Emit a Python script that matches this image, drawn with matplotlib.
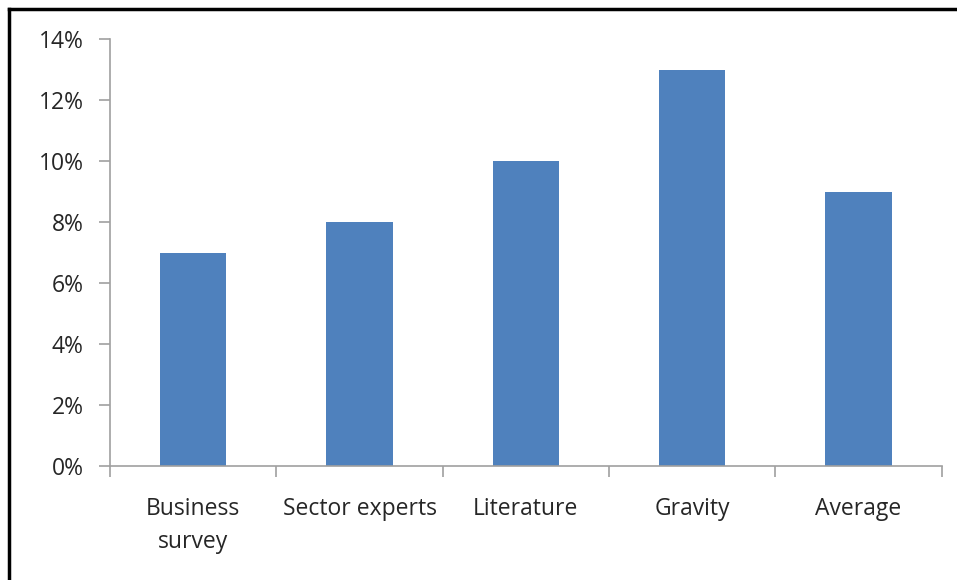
import matplotlib.pyplot as plt
from matplotlib.lines import Line2D
from matplotlib.ticker import FuncFormatter

categories = ["Business\nsurvey", "Sector experts", "Literature", "Gravity", "Average"]
values = [7, 8, 10, 13, 9]
yticks = [0, 2, 4, 6, 8, 10, 12, 14]

plt.rcParams['font.family'] = ['Open Sans', 'DejaVu Sans']

fig = plt.figure(figsize=(9.57, 5.8), dpi=100)
ax = fig.add_axes([0.115, 0.1966, 0.869, 0.736])

x = range(len(categories))
ax.bar(x, values, width=0.4, color="#4F81BD")

ax.set_xlim(-0.5, len(categories) - 0.5)
ax.set_ylim(0, 14)
ax.set_yticks(yticks)
ax.yaxis.set_major_formatter(FuncFormatter(lambda v, p: f"{v:.0f}%"))

ax.set_xticks([i - 0.5 for i in range(len(categories) + 1)])
ax.set_xticklabels([])
ax.set_xticks(list(x), minor=True)
ax.set_xticklabels(categories, minor=True, fontsize=16.5, color="#262626",
                   linespacing=1.5)
ax.tick_params(axis="x", which="minor", length=0, pad=22)
ax.tick_params(axis="x", which="major", length=8, color="#A0A0A0", width=1.2)
ax.tick_params(axis="y", length=8, color="#A0A0A0", width=1.2,
               labelsize=16.5, labelcolor="#262626", pad=11)

for s in ["top", "right"]:
    ax.spines[s].set_visible(False)
for s in ["left", "bottom"]:
    ax.spines[s].set_color("#A0A0A0")
    ax.spines[s].set_linewidth(1.2)

# frame around the picture
fig.add_artist(Line2D([9 / 957, 9 / 957], [0, 1 - 9 / 580], color="black",
                      linewidth=2.5, transform=fig.transFigure))
fig.add_artist(Line2D([9 / 957, 1], [1 - 9 / 580, 1 - 9 / 580], color="black",
                      linewidth=2.5, transform=fig.transFigure))

fig.savefig("out.png", dpi=100)
